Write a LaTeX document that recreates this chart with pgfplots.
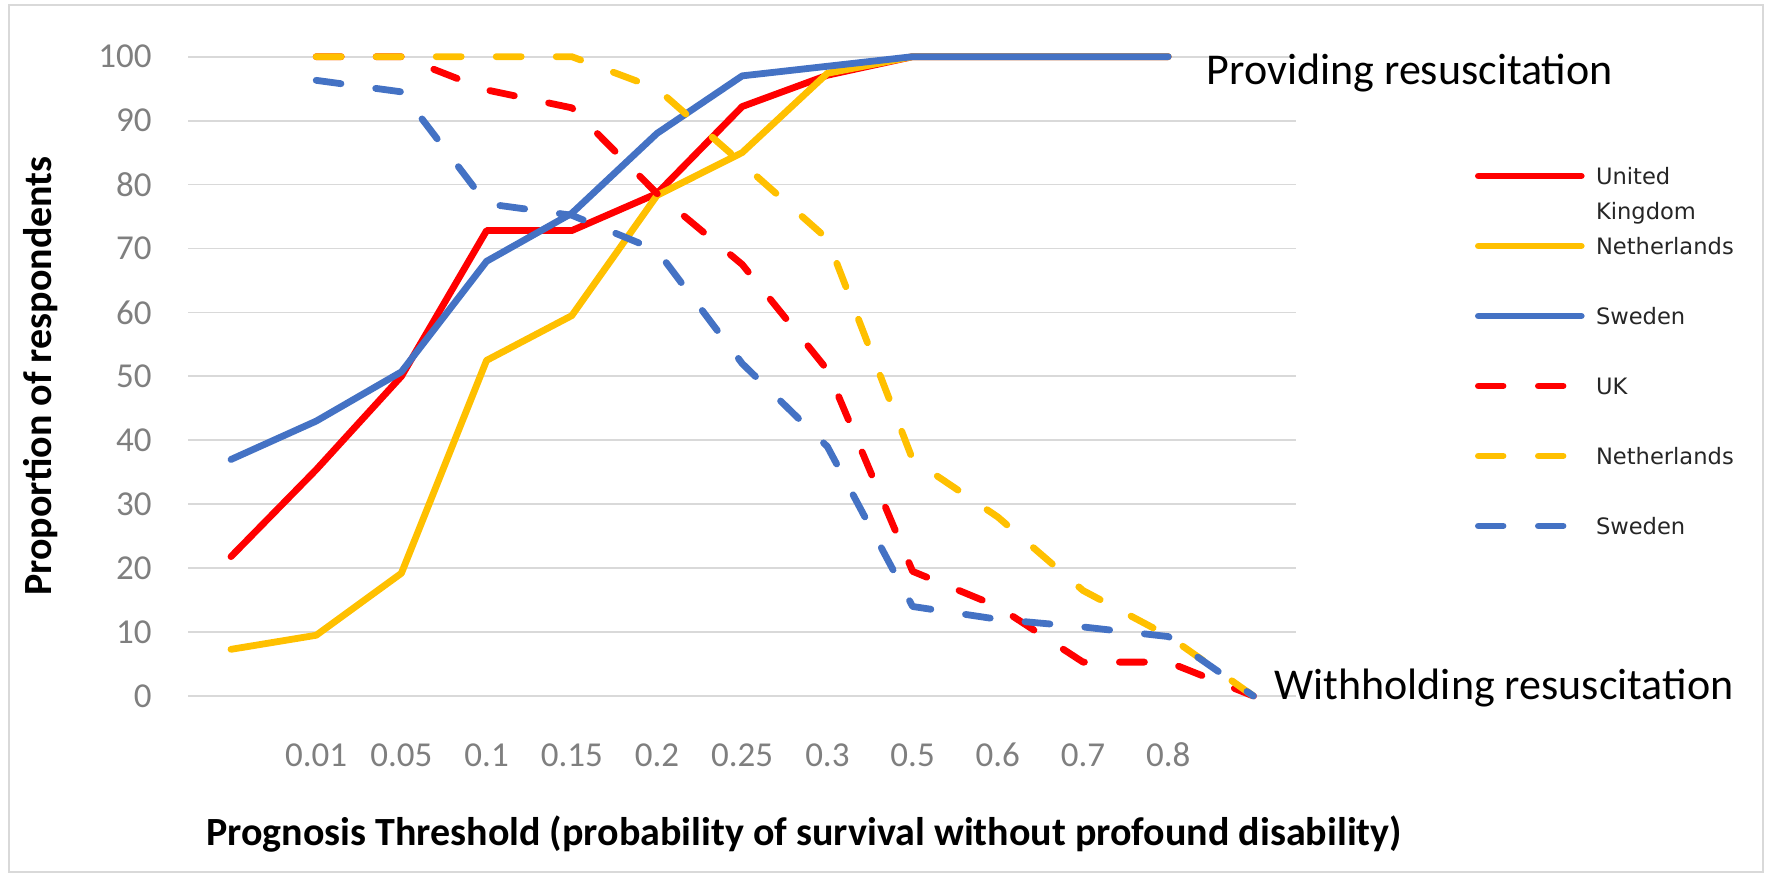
\documentclass[border=0pt]{standalone}
\usepackage{fontspec}
\setmainfont{Carlito}
\newfontfamily\legendfont{DejaVu Sans}
\usepackage{pgfplots}
\pgfplotsset{compat=1.18}

\definecolor{ukred}{HTML}{FF0000}
\definecolor{nlgold}{HTML}{FFC000}
\definecolor{seblue}{HTML}{4472C4}
\definecolor{gridgray}{HTML}{D9D9D9}
\definecolor{labelgray}{HTML}{7F7F7F}

% Share of respondents by prognosis threshold (category index 0..12)
\pgfplotstableread{
x  y
0  21.8
1  35.4
2  50.0
3  72.8
4  72.8
5  78.6
6  92.2
7  97.1
8  100
9  100
10 100
11 100
}\ukprovide
\pgfplotstableread{
x  y
0  7.3
1  9.5
2  19.2
3  52.5
4  59.5
5  78.3
6  85.0
7  97.4
8  100
9  100
10 100
11 100
}\nlprovide
\pgfplotstableread{
x  y
0  37.0
1  43.0
2  50.7
3  68.0
4  75.5
5  88.0
6  97.0
7  98.5
8  100
9  100
10 100
11 100
}\seprovide
\pgfplotstableread{
x  y
1  100
2  100
3  94.8
4  92.0
5  78.6
6  67.5
7  51.0
8  19.5
9  14.0
10 5.3
11 5.3
12 0
}\ukwithhold
\pgfplotstableread{
x  y
1  100
2  100
3  100
4  100
5  95.0
6  83.3
7  71.5
8  37.0
9  28.0
10 16.5
11 9.4
12 0
}\nlwithhold
\pgfplotstableread{
x  y
1  96.3
2  94.5
3  77.0
4  75.2
5  69.7
6  52.0
7  39.0
8  14.0
9  12.0
10 10.8
11 9.3
12 0
}\sewithhold

\begin{document}
\begin{tikzpicture}
\useasboundingbox (0,0) rectangle (884bp,437.5bp);
\draw[gridgray, line width=0.75bp] (4.5bp,1.5bp) rectangle (881.5bp,435bp);
\begin{axis}[
  at={(94.2bp,89.5bp)}, anchor=south west,
  scale only axis, width=553.8bp, height=319.65bp,
  xmin=-0.5, xmax=12.5, ymin=0, ymax=100,
  clip=false,
  axis line style={draw=none},
  major tick length=0pt,
  xtick={0,...,12},
  xticklabels={,0.01,0.05,0.1,0.15,0.2,0.25,0.3,0.5,0.6,0.7,0.8,},
  ytick={0,10,...,100},
  ymajorgrids,
  grid style={gridgray, line width=0.9bp},
  /pgf/number format/assume math mode=true,
  ticklabel style={font=\fontsize{17.5bp}{21bp}\selectfont, text=labelgray},
  xticklabel style={anchor=base, inner sep=0pt, yshift=-35.5bp},
  yticklabel style={anchor=east, inner sep=0pt, xshift=-18.2bp},
  every axis plot/.append style={line width=3.4bp, line join=round, line cap=round},
  withhold/.style={dash pattern=on 12.5bp off 17.5bp},
  legend cell align=left,
  legend image code/.code={\draw[#1, line width=3.2bp] (1.7bp,0) -- (53.3bp,0);},
  legend style={
    at={(axis description cs:1.16161,0.8263)}, anchor=north west,
    draw=none, fill=none, inner sep=0pt, outer sep=0pt,
    font=\legendfont\fontsize{11.3bp}{17.5bp}\selectfont,
    text=black!85,
    row sep=26.76bp, column sep=5.7bp,
    nodes={inner sep=0pt, text height=8.24bp, text depth=0pt, anchor=west},
  },
]
\addplot[ukred] table {\ukprovide};
\addlegendentry{\smash{\vtop{\hbox{United}\hbox{Kingdom}}}}
\addplot[nlgold] table {\nlprovide};
\addlegendentry{Netherlands}
\addplot[seblue] table {\seprovide};
\addlegendentry{Sweden}
\addplot[ukred, withhold] table {\ukwithhold};
\addlegendentry{UK}
\addplot[nlgold, withhold] table {\nlwithhold};
\addlegendentry{Netherlands}
\addplot[seblue, withhold] table {\sewithhold};
\addlegendentry{Sweden}
\end{axis}

\node[anchor=base west, inner sep=0pt, font=\fontsize{22bp}{26bp}\selectfont]
  at (603.25bp,395bp) {Providing resuscitation};
\node[anchor=base west, inner sep=0pt, font=\fontsize{22bp}{26bp}\selectfont]
  at (637bp,87.5bp) {Withholding resuscitation};
\node[rotate=90, anchor=base, inner sep=0pt, font=\bfseries\fontsize{20bp}{24bp}\selectfont]
  at (25.5bp,249.5bp) {Proportion of respondents};
\node[anchor=base, inner sep=0pt, font=\bfseries\fontsize{20bp}{24bp}\selectfont]
  at (402bp,15bp) {Prognosis Threshold (probability of survival without profound disability)};
\end{tikzpicture}
\end{document}
